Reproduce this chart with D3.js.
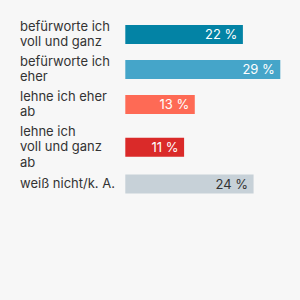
<!DOCTYPE html>
<html>
<head>
<meta charset="utf-8">
<script src="https://cdn.jsdelivr.net/npm/d3@7"></script>
<style>
  html, body { margin: 0; padding: 0; background: #f7f7f7; }
  svg { display: block; }
</style>
</head>
<body>
<div id="chart"></div>
<script>
// answers, each line of the label as its own entry
const categories = [
  ['befürworte ich', 'voll und ganz'],
  ['befürworte ich', 'eher'],
  ['lehne ich eher', 'ab'],
  ['lehne ich', 'voll und ganz', 'ab'],
  ['weiß nicht/k. A.']
];
const values = [22, 29, 13, 11, 24]; // percent
const colors = ['#0383a5', '#45a5c9', '#fe6a55', '#da2a29', '#c7d1d8'];
const labelColors = ['#fff', '#fff', '#fff', '#fff', '#333'];

const width = 300, height = 300;
const lineH = 15.5, barH = 19, gap = 4;
const barX = 125.3;

const svg = d3.select('#chart').append('svg')
  .attr('width', width)
  .attr('height', height);

const x = d3.scaleLinear()
  .domain([0, d3.max(values)])
  .range([0, 155]);

// stack the rows: each row is as tall as its label or its bar
let cursor = 19;
const rows = categories.map((lines, i) => {
  const h = Math.max(lines.length * lineH, barH);
  const center = cursor + h / 2;
  cursor += h + gap;
  return { lines, value: values[i], color: colors[i], labelColor: labelColors[i], center };
});

const row = svg.selectAll('g.row')
  .data(rows)
  .join('g')
  .attr('class', 'row');

row.append('text')
  .attr('x', 20)
  .style('font-family', 'Inter, sans-serif')
  .style('font-size', '13px')
  .style('fill', '#333')
  .selectAll('tspan')
  .data(d => d.lines.map((t, j) => ({ t, y: d.center + (j - (d.lines.length - 1) / 2) * lineH + 4 })))
  .join('tspan')
  .attr('x', 20)
  .attr('y', d => d.y)
  .text(d => d.t);

row.append('rect')
  .attr('x', barX)
  .attr('y', d => d.center - barH / 2)
  .attr('width', d => x(d.value))
  .attr('height', barH)
  .style('fill', d => d.color);

row.append('text')
  .attr('x', d => barX + x(d.value) - 5.5)
  .attr('y', d => d.center + 4.5)
  .attr('text-anchor', 'end')
  .style('font-family', 'Inter, sans-serif')
  .style('font-size', '13px')
  .style('fill', d => d.labelColor)
  .text(d => d.value + ' %');
</script>
</body>
</html>
